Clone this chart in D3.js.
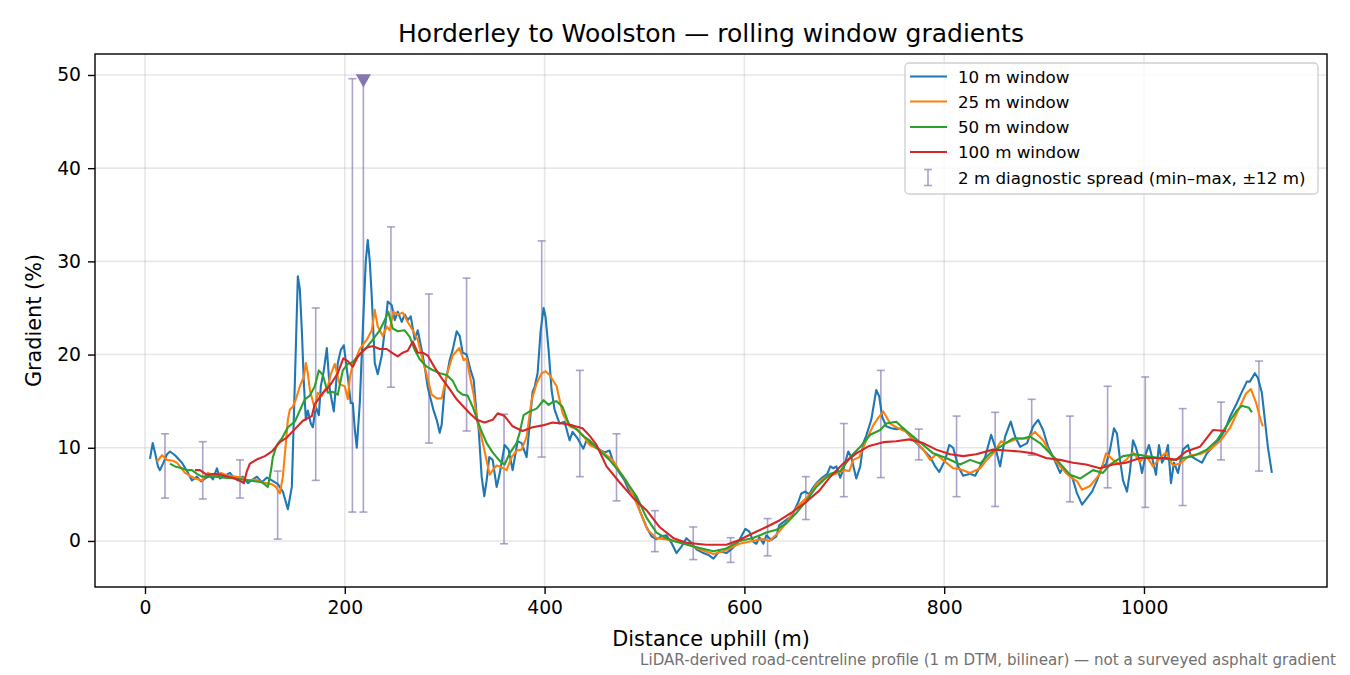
<!DOCTYPE html>
<html>
<head>
<meta charset="utf-8">
<script src="https://cdn.jsdelivr.net/npm/d3@7"></script>
<style>
  body { margin: 0; background: #fff; }
  text { font-family: "DejaVu Sans", sans-serif; }
</style>
</head>
<body>
<div id="chart"></div>
<script>
// distances (m) and gradients (%)
var d10 = [5, 7.7, 10, 13, 15, 18, 22, 25, 30, 37, 42, 47, 52, 56, 60, 65, 68, 72, 75, 80, 85, 89, 93, 98, 103, 108, 112, 117, 122, 127, 133, 138, 143, 147, 150, 153, 155, 157, 159, 161, 163, 166, 168, 171, 174, 176, 179, 182, 185, 189, 193, 196, 199, 203, 206, 208, 210, 212, 215, 218, 221, 223, 225, 227, 230, 233, 237, 240, 243, 247, 250, 253, 257, 260, 263, 266, 270, 273, 277, 280, 283, 288.6, 292, 295, 297, 300, 305, 308, 312, 315, 318, 322, 326, 329, 332, 334, 337, 339.6, 342, 344.6, 348, 352, 355, 360, 364, 368, 373, 377, 382, 385, 388, 390, 393, 396, 399, 401, 404, 407, 410, 415, 420, 425, 428, 433, 438.8, 442, 448, 455, 460, 465, 468, 475, 480, 484, 488, 492, 495, 502, 507, 512, 517, 522, 527, 532, 537, 542, 547, 552, 559, 564, 569, 575, 582, 588, 595, 601, 605, 609, 612, 615, 619, 622, 627, 632, 635, 640, 645, 648, 654, 657, 661, 665, 668, 672, 678, 683, 686, 689, 692, 696, 699, 704, 707, 712, 716, 719, 722, 727, 732, 735, 738, 742, 747, 752, 759, 766, 772, 779, 786, 791, 795, 801, 805, 809, 814, 819, 826, 831, 836, 841, 847, 851, 856, 861, 866.6, 871, 876, 883, 889, 894, 899, 904, 909, 912, 916, 919, 922, 928, 933, 938, 943, 948, 953, 958, 962, 966, 970, 973, 976, 979, 983, 986, 989, 992, 996, 998, 1002, 1005, 1008, 1012, 1015, 1018, 1021, 1024, 1027, 1030, 1034, 1039, 1044, 1047, 1053, 1058, 1063, 1069, 1076, 1081, 1086, 1093, 1098, 1103, 1106, 1111, 1114, 1118, 1121, 1124, 1128];
var g10 = [8.8, 10.5, 9.5, 8.0, 7.6, 8.3, 9.3, 9.6, 9.2, 8.4, 7.5, 6.5, 6.9, 6.4, 6.7, 7.0, 6.6, 7.8, 6.7, 7.0, 7.3, 6.8, 6.5, 6.9, 6.2, 6.6, 6.9, 6.3, 6.8, 6.5, 6.1, 5.3, 3.4, 5.8, 17.0, 28.4, 27.0, 22.6, 17.0, 13.0, 14.0, 12.6, 12.2, 14.4, 13.5, 16.6, 18.3, 20.7, 16.2, 13.9, 19.1, 20.5, 21.0, 17.6, 14.8, 14.8, 12.0, 10.0, 14.8, 22.6, 30.0, 32.3, 30.0, 26.2, 19.1, 17.9, 19.9, 22.6, 25.7, 25.3, 23.7, 24.6, 23.5, 24.3, 23.7, 24.1, 21.6, 22.6, 20.5, 18.7, 16.5, 14.1, 13.0, 11.6, 12.5, 16.5, 19.4, 20.5, 22.5, 22.0, 20.2, 20.0, 18.3, 17.3, 13.5, 12.0, 6.9, 4.8, 6.5, 9.0, 8.7, 5.8, 7.2, 10.3, 9.8, 7.6, 10.7, 10.5, 9.0, 12.5, 16.0, 16.5, 18.0, 22.5, 25.0, 24.0, 20.5, 16.2, 14.1, 12.6, 12.8, 10.8, 11.7, 11.0, 9.9, 10.8, 10.3, 9.8, 9.5, 9.7, 8.7, 7.3, 6.5, 5.5, 5.1, 4.5, 3.3, 1.5, 0.5, 0.2, 0.5, 0.6, -0.2, -1.3, -0.6, 0.3, -0.2, -0.9, -1.3, -1.5, -1.9, -1.1, -1.3, -0.8, 0.1, 1.3, 1.0, -0.1, -0.3, 0.4, -0.3, 0.6, 0.1, 0.5, 1.7, 2.1, 2.5, 2.8, 4.2, 5.1, 5.3, 5.0, 5.6, 6.2, 6.8, 7.2, 8.0, 7.8, 8.0, 6.8, 7.7, 9.6, 9.0, 6.7, 8.0, 10.5, 11.3, 13.0, 16.2, 15.5, 13.3, 12.3, 12.1, 12.0, 12.1, 11.2, 10.5, 9.8, 9.0, 8.0, 7.4, 8.7, 10.3, 10.0, 8.0, 7.0, 7.2, 7.0, 8.0, 9.0, 11.4, 10.1, 8.0, 11.2, 12.8, 11.2, 10.1, 10.5, 12.3, 13.0, 11.9, 10.1, 9.0, 8.3, 7.3, 7.9, 7.3, 6.9, 5.1, 3.9, 4.6, 5.3, 6.5, 8.0, 8.2, 9.8, 12.1, 11.5, 8.7, 6.5, 5.3, 7.5, 10.8, 10.0, 8.4, 7.3, 9.4, 10.3, 9.0, 7.1, 10.3, 8.4, 9.0, 10.3, 6.2, 8.4, 7.3, 9.8, 10.3, 9.1, 8.7, 8.4, 9.4, 10.1, 11.0, 11.9, 13.3, 14.8, 16.0, 17.1, 17.1, 18.0, 17.5, 15.9, 13.0, 10.1, 7.3];

var d25 = [12, 17, 22, 28, 32, 40, 50, 57, 63, 70, 76, 83, 90, 97, 103, 110, 117, 127, 131, 135, 138, 141, 143, 145, 148, 151, 155, 159, 161, 163, 165, 168, 170, 173, 177, 180, 183, 186, 190, 195, 200, 203, 205, 208, 212, 215, 222, 227, 230, 233, 238, 242, 245, 248.5, 253, 258, 263, 268, 273, 278, 282, 287, 292, 297, 302, 308, 314.6, 319, 322, 325, 329, 332, 336, 339, 345, 348, 352, 357, 362, 367, 372, 377, 382, 387, 392, 397, 401, 405, 412, 418, 425, 432, 438, 445, 455, 468, 475, 482, 488, 495, 503, 512, 520, 529, 542, 555, 569, 579, 589, 595, 608, 618, 625, 632, 638, 643, 648, 655, 662, 668, 672, 682, 692, 700, 705, 709, 715, 722, 729, 734, 739, 746, 752, 762, 772, 779, 786, 792, 802, 809, 816, 826, 836, 841, 849, 857, 862, 874, 883, 891, 899, 906, 916, 926, 933, 938, 946, 956, 962, 969, 976, 982, 989, 996, 1002, 1009, 1016, 1022, 1029, 1036, 1046, 1056, 1066, 1076, 1086, 1096, 1102, 1107, 1112, 1117, 1119];
var g25 = [8.5, 9.2, 8.7, 8.6, 8.4, 7.3, 6.7, 6.5, 7.3, 7.0, 7.3, 7.0, 6.9, 6.8, 6.5, 6.6, 6.3, 6.1, 5.8, 5.1, 6.9, 10.5, 13.0, 14.1, 14.4, 15.2, 16.6, 17.6, 19.1, 18.0, 16.2, 15.0, 14.1, 15.9, 15.6, 16.2, 16.6, 17.9, 19.0, 16.8, 16.6, 15.2, 17.5, 19.0, 19.8, 20.6, 21.6, 22.6, 24.8, 23.0, 22.0, 23.0, 22.6, 24.6, 24.3, 24.5, 23.5, 22.6, 21.6, 19.4, 17.8, 15.7, 15.3, 15.3, 17.8, 19.9, 20.7, 19.4, 19.6, 17.8, 15.7, 13.2, 11.5, 10.1, 7.1, 7.6, 8.1, 7.9, 7.6, 9.0, 9.7, 9.8, 11.2, 15.1, 16.9, 18.0, 18.2, 17.8, 16.6, 13.7, 12.3, 12.0, 11.4, 10.3, 9.8, 8.7, 7.5, 6.4, 5.0, 3.3, 1.2, 0.3, 0.2, 0.0, -0.2, -0.9, -1.4, -1.1, -0.6, -0.3, 0.0, 0.2, 0.0, 0.7, 1.4, 2.1, 3.0, 3.9, 4.6, 5.3, 6.1, 6.9, 7.2, 7.6, 7.5, 8.7, 9.0, 10.8, 12.4, 13.2, 13.9, 12.6, 12.2, 11.7, 10.6, 9.8, 8.7, 9.3, 8.4, 7.8, 7.7, 7.3, 7.8, 8.5, 9.4, 10.7, 10.5, 11.0, 11.0, 11.7, 10.8, 9.4, 8.0, 6.9, 6.4, 5.5, 5.9, 7.2, 9.4, 8.7, 8.2, 8.7, 9.5, 8.5, 9.2, 8.0, 8.9, 9.5, 8.1, 8.3, 9.2, 9.3, 9.8, 10.7, 12.1, 14.4, 15.8, 16.3, 14.9, 12.9, 12.3];

var d50 = [25, 30, 37, 42, 47, 52, 57, 63, 70, 80, 90, 103, 110, 117, 123, 126, 128, 132, 137, 143, 150, 155, 160, 165, 170, 174, 178, 183, 188, 193, 198, 203, 208, 215, 222, 228, 235, 240, 243.5, 248, 253, 260, 265, 270, 275, 282, 287, 295, 302, 308, 313, 318, 323, 328, 332, 336, 342, 348, 355, 360, 365, 372, 375, 379, 385, 392, 399, 404, 408, 412, 418, 422, 425, 432, 438, 445, 452, 465, 478, 492, 502, 512, 520, 529, 549, 569, 582, 595, 608, 622, 632, 642, 652, 662, 672, 686, 696, 706, 716, 726, 736, 742, 752, 759, 769, 779, 789, 802, 816, 826, 836, 846, 859, 869, 879, 886, 896, 906, 916, 926, 936, 949, 959, 966, 979, 992, 1002, 1016, 1029, 1039, 1049, 1063, 1073, 1083, 1093, 1098, 1105, 1108];
var g50 = [8.3, 8.0, 7.8, 7.6, 7.6, 7.2, 6.9, 6.9, 6.9, 6.8, 6.7, 6.5, 6.4, 6.3, 5.8, 7.5, 9.0, 10.3, 11.0, 12.2, 12.8, 14.0, 15.2, 15.6, 16.6, 18.3, 17.8, 15.9, 16.0, 15.7, 18.3, 19.0, 19.2, 20.0, 20.8, 21.6, 22.6, 23.7, 24.6, 22.8, 22.5, 22.6, 21.9, 20.5, 19.5, 18.7, 18.4, 18.0, 17.8, 17.2, 16.1, 15.7, 15.6, 14.4, 13.2, 12.0, 10.5, 9.5, 8.6, 8.2, 9.4, 10.5, 11.6, 13.5, 13.9, 14.2, 15.1, 14.6, 14.9, 15.0, 14.4, 13.2, 12.4, 12.0, 11.3, 10.8, 10.0, 8.7, 7.0, 4.8, 2.5, 0.9, 0.4, 0.0, -0.6, -1.1, -0.8, 0.0, 0.3, 0.9, 1.2, 1.9, 3.0, 4.3, 5.8, 7.2, 7.5, 9.0, 10.1, 11.4, 11.9, 12.6, 12.8, 12.1, 11.2, 10.3, 9.4, 8.9, 8.2, 8.7, 8.3, 9.4, 10.3, 11.0, 11.0, 11.2, 10.5, 9.4, 8.3, 7.1, 6.7, 7.6, 7.3, 8.2, 9.1, 9.3, 9.1, 8.9, 8.7, 8.9, 9.1, 9.8, 10.8, 12.4, 14.0, 14.5, 14.3, 13.8];

var d100 = [50, 55, 62, 70, 76, 83, 90, 96, 99, 102, 105, 113, 120, 127, 135, 142, 150, 158, 167, 170, 173.5, 178, 183, 187, 193, 198.5, 203, 208, 213, 218, 223, 228, 235, 242, 247, 253, 258, 263, 268, 273, 278, 283, 290, 298, 305, 312, 318, 325, 332, 340, 348, 353, 360, 368, 378, 388, 398, 408, 418, 428, 438, 445, 452, 462, 475, 488, 502, 515, 529, 542, 562, 582, 595, 608, 622, 635, 648, 662, 675, 686, 699, 712, 725, 739, 752, 765, 779, 792, 806, 819, 832, 849, 862, 876, 889, 902, 916, 929, 942, 956, 969, 982, 996, 1009, 1022, 1032, 1042, 1056, 1069, 1082];
var g100 = [7.6, 7.6, 7.1, 7.2, 7.1, 6.9, 6.7, 6.4, 6.2, 7.5, 8.3, 8.8, 9.1, 9.6, 10.6, 11.1, 12.0, 12.9, 13.4, 14.7, 15.2, 15.9, 16.4, 17.0, 18.0, 19.6, 19.3, 18.7, 19.8, 20.4, 20.8, 20.9, 20.6, 20.6, 20.2, 19.8, 20.2, 20.4, 21.4, 20.2, 20.2, 19.9, 18.6, 17.3, 16.3, 15.2, 14.5, 13.7, 13.0, 12.7, 13.0, 13.7, 13.4, 12.3, 11.8, 12.2, 12.4, 12.7, 12.6, 12.4, 12.1, 11.3, 10.3, 8.0, 6.3, 4.7, 3.3, 1.5, 0.3, -0.2, -0.4, -0.4, 0.1, 0.8, 1.5, 2.2, 3.1, 4.2, 5.4, 6.9, 8.3, 9.4, 10.2, 10.6, 10.7, 10.9, 10.5, 9.8, 9.3, 9.1, 9.3, 9.8, 9.7, 9.6, 9.4, 8.9, 8.7, 8.4, 8.2, 7.8, 8.2, 8.4, 8.9, 8.9, 8.9, 8.7, 9.6, 10.1, 11.9, 11.8];

// 2 m diagnostic spread: position, min, max
var spreadD = [20.0, 57.8, 95.1, 132.8, 170.9, 207.6, 218.6, 246.2, 284.2, 321.9, 359.4, 397.1, 435.3, 472.0, 510.4, 548.8, 586.2, 623.2, 661.5, 699.5, 736.6, 774.6, 812.4, 851.0, 887.6, 925.9, 963.6, 1001.3, 1038.7, 1077.1, 1115.1];
var spreadLo = [4.6, 4.5, 4.6, 0.2, 6.5, 3.1, 3.1, 16.5, 10.5, 11.8, -0.3, 9.0, 6.9, 4.3, -1.15, -2.0, -2.3, -1.6, 2.3, 4.75, 6.8, 8.7, 4.75, 3.7, 9.2, 4.2, 5.7, 3.6, 3.8, 8.7, 7.5];
var spreadHi = [11.5, 10.65, 8.7, 7.5, 25.0, 49.6, 49.6, 33.7, 26.5, 28.2, 13.6, 32.2, 18.3, 11.5, 3.25, 1.5, 0.35, 2.4, 6.9, 12.6, 18.3, 12.0, 13.4, 13.8, 15.2, 13.4, 16.6, 17.6, 14.2, 14.9, 19.3];
var clippedD = [218.6]; // spread runs past the top of the plot
var clippedV = [49.6];

var xTicks = [0, 200, 400, 600, 800, 1000];
var yTicks = [0, 10, 20, 30, 40, 50];

var seriesNames = ["10 m window", "25 m window", "50 m window", "100 m window"];
var seriesColors = ["#1f77b4", "#ff7f0e", "#2ca02c", "#d62728"];

var width = 1350,
  height = 675;
var plotLeft = 95,
  plotRight = 1327,
  plotTop = 54,
  plotBottom = 587;

var svg = d3
  .select("#chart")
  .append("svg")
  .attr("width", width)
  .attr("height", height);

var x = d3.scaleLinear().domain([-50.05, 1183.2]).range([plotLeft, plotRight]);
var y = d3.scaleLinear().domain([-4.94, 52.25]).range([plotBottom, plotTop]);

svg
  .append("defs")
  .append("clipPath")
  .attr("id", "plot-clip")
  .append("rect")
  .attr("x", plotLeft)
  .attr("y", plotTop)
  .attr("width", plotRight - plotLeft)
  .attr("height", plotBottom - plotTop);

// grid
var grid = svg.append("g");
grid
  .selectAll("line.gx")
  .data(xTicks)
  .join("line")
  .attr("x1", (d) => x(d))
  .attr("x2", (d) => x(d))
  .attr("y1", plotTop)
  .attr("y2", plotBottom)
  .attr("stroke", "#b0b0b0")
  .attr("stroke-opacity", 0.3)
  .attr("stroke-width", 1.6);
grid
  .selectAll("line.gy")
  .data(yTicks)
  .join("line")
  .attr("x1", plotLeft)
  .attr("x2", plotRight)
  .attr("y1", (d) => y(d))
  .attr("y2", (d) => y(d))
  .attr("stroke", "#b0b0b0")
  .attr("stroke-opacity", 0.3)
  .attr("stroke-width", 1.6);

var plot = svg.append("g").attr("clip-path", "url(#plot-clip)");

// error bars
var errColor = "#8a7bb5";
var bars = plot.append("g").attr("stroke", errColor).attr("stroke-opacity", 0.7).attr("stroke-width", 1.6);
spreadD.forEach(function (d, i) {
  var cx = x(d);
  bars.append("line").attr("x1", cx).attr("x2", cx).attr("y1", y(spreadLo[i])).attr("y2", y(spreadHi[i]));
  bars.append("line").attr("x1", cx - 4).attr("x2", cx + 4).attr("y1", y(spreadLo[i])).attr("y2", y(spreadLo[i]));
  bars.append("line").attr("x1", cx - 4).attr("x2", cx + 4).attr("y1", y(spreadHi[i])).attr("y2", y(spreadHi[i]));
});

// lines
var line = d3
  .line()
  .x((p) => x(p[0]))
  .y((p) => y(p[1]));

var seriesData = [
  [d10, g10],
  [d25, g25],
  [d50, g50],
  [d100, g100],
];

seriesData.forEach(function (s, k) {
  var pts = s[0].map(function (d, i) {
    return [d, s[1][i]];
  });
  plot
    .append("path")
    .datum(pts)
    .attr("d", line)
    .attr("fill", "none")
    .attr("stroke", seriesColors[k])
    .attr("stroke-width", 2.1)
    .attr("stroke-linejoin", "round");
});

// marker for the clipped spread
plot
  .selectAll("path.clip-marker")
  .data(clippedD)
  .join("path")
  .attr("d", d3.symbol().type(d3.symbolTriangle).size(100))
  .attr("transform", (d, i) => "translate(" + x(d) + "," + y(clippedV[i]) + ") rotate(180)")
  .attr("fill", "#8677b0");

// spines
svg
  .append("rect")
  .attr("x", plotLeft)
  .attr("y", plotTop)
  .attr("width", plotRight - plotLeft)
  .attr("height", plotBottom - plotTop)
  .attr("fill", "none")
  .attr("stroke", "#000")
  .attr("stroke-width", 1.4);

// axes
var xAxis = svg
  .append("g")
  .attr("transform", "translate(0," + plotBottom + ")")
  .call(d3.axisBottom(x).tickValues(xTicks).tickSize(7).tickPadding(7).tickFormat(d3.format("d")));
var yAxis = svg
  .append("g")
  .attr("transform", "translate(" + plotLeft + ",0)")
  .call(d3.axisLeft(y).tickValues(yTicks).tickSize(7).tickPadding(7).tickFormat(d3.format("d")));
[xAxis, yAxis].forEach(function (a) {
  a.select(".domain").remove();
  a.selectAll(".tick line").attr("stroke", "#000").attr("stroke-width", 1.4);
  a.selectAll(".tick text").attr("font-size", "18.75px").attr("fill", "#000").style("font-family", "DejaVu Sans");
});

// titles
svg
  .append("text")
  .attr("x", (plotLeft + plotRight) / 2)
  .attr("y", 41.5)
  .attr("text-anchor", "middle")
  .attr("font-size", "25px")
  .text("Horderley to Woolston — rolling window gradients");

svg
  .append("text")
  .attr("x", (plotLeft + plotRight) / 2)
  .attr("y", 646)
  .attr("text-anchor", "middle")
  .attr("font-size", "20.8px")
  .text("Distance uphill (m)");

svg
  .append("text")
  .attr("transform", "translate(41," + (plotTop + plotBottom) / 2 + ") rotate(-90)")
  .attr("text-anchor", "middle")
  .attr("font-size", "20.8px")
  .text("Gradient (%)");

svg
  .append("text")
  .attr("x", 1336)
  .attr("y", 665)
  .attr("text-anchor", "end")
  .attr("font-size", "15.1px")
  .attr("fill", "#707070")
  .text("LiDAR-derived road-centreline profile (1 m DTM, bilinear) — not a surveyed asphalt gradient");

// legend
var legend = svg.append("g");
legend
  .append("rect")
  .attr("x", 905)
  .attr("y", 63)
  .attr("width", 413)
  .attr("height", 131)
  .attr("rx", 4)
  .attr("fill", "#fff")
  .attr("fill-opacity", 0.8)
  .attr("stroke", "#d0d0d0")
  .attr("stroke-width", 1.4);

var rowY = [76.5, 101.5, 127, 152, 177.5];
seriesNames.forEach(function (name, i) {
  legend
    .append("line")
    .attr("x1", 910)
    .attr("x2", 947)
    .attr("y1", rowY[i])
    .attr("y2", rowY[i])
    .attr("stroke", seriesColors[i])
    .attr("stroke-width", 2.1);
  legend
    .append("text")
    .attr("x", 958)
    .attr("y", rowY[i] + 6)
    .attr("font-size", "16.7px")
    .text(name);
});
var ly = rowY[4];
var lg = legend.append("g").attr("stroke", errColor).attr("stroke-opacity", 0.7).attr("stroke-width", 1.6);
lg.append("line").attr("x1", 928).attr("x2", 928).attr("y1", ly - 8).attr("y2", ly + 8);
lg.append("line").attr("x1", 924).attr("x2", 932).attr("y1", ly - 8).attr("y2", ly - 8);
lg.append("line").attr("x1", 924).attr("x2", 932).attr("y1", ly + 8).attr("y2", ly + 8);
legend
  .append("text")
  .attr("x", 958)
  .attr("y", ly + 6)
  .attr("font-size", "16.7px")
  .text("2 m diagnostic spread (min–max, ±12 m)");
</script>
</body>
</html>
